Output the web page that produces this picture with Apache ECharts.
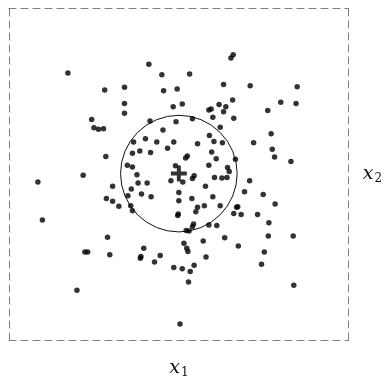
<!DOCTYPE html>
<html>
<head>
<meta charset="utf-8">
<script src="https://cdn.jsdelivr.net/npm/echarts@6/dist/echarts.min.js"></script>
<style>
  html, body { margin: 0; padding: 0; background: #fff; }
  #chart { width: 388px; height: 384px; }
</style>
</head>
<body>
<div id="chart"></div>
<script>
// Sample coordinates (x1, x2)
const x1Values = [
  -1.96, -0.53, -0.30, -1.31, -0.96, -0.27, -0.03, -0.96, -0.96, -0.10,
   0.06, -1.54, -1.50, -1.42, -1.33, -0.51, -0.05, -0.28, -0.80, -0.59,
  -0.39, -0.09, -0.20, -0.82, -0.69, -0.50, -1.29,  0.12,  0.15, -0.91,
  -0.82, -0.06, -0.74, -1.69, -2.49,  0.92,  0.96,  0.19,  0.79,  1.26,
   2.09,  0.71,  0.83,  0.95,  0.53,  0.57,  0.79,  0.60,  0.97,  0.24,
   1.57,  1.80,  2.07,  0.73,  1.63,  0.54,  0.62,  0.77,  0.33,  1.32,
   0.58,  1.65,  1.69,  0.66,  1.00,  1.98,  0.53,  0.86,  0.89,  0.27,
   0.24,  0.63,  0.76,  0.85,  1.25, -0.72, -0.56, -0.14, -1.17, -0.84,
  -0.90, -0.66, -0.49,  0.00, -1.28, -1.17, -1.06, -0.85, -0.82,  0.00,
  -0.02, -0.01, -2.41,  0.13,  0.18, -1.26, -0.62,  0.09, -1.66, -1.61,
  -1.22, -0.67, -0.68, -0.33, -0.43, -0.09,  0.06, -1.80,  0.02,  0.07,
   0.47,  1.16,  0.23,  0.60,  1.49,  1.70,  0.45,  0.33,  0.30,  0.73,
   1.02,  1.04,  0.97,  1.10,  1.39,  1.59,  0.53,  0.67,  0.26,  0.24,
   0.81,  1.58,  2.02,  0.43,  1.05,  0.14,  0.16,  1.51,  0.48,  1.46,
   0.27,  0.20,  0.17,  2.03
];
const x2Values = [
   1.83,  1.99,  1.80,  1.52,  1.57,  1.51,  1.54,  1.28,  1.10,  1.22,
   1.27,  0.99,  0.84,  0.81,  0.82,  0.96,  0.95,  0.80,  0.58,  0.64,
   0.58,  0.58,  0.47,  0.38,  0.42,  0.39,  0.32,  0.29,  0.33,  0.16,
   0.13,  0.15, -0.01, -0.02, -0.14,  2.10,  2.16,  1.81,  1.62,  1.60,
   1.58,  1.26,  1.22,  1.34,  1.16,  1.18,  1.13,  1.03,  1.01,  1.00,
   1.15,  1.30,  1.28,  0.85,  0.73,  0.70,  0.59,  0.57,  0.55,  0.57,
   0.40,  0.45,  0.31,  0.28,  0.27,  0.23,  0.16,  0.12,  0.05, -0.03,
  -0.08, -0.06, -0.07, -0.06, -0.12, -0.16, -0.16, -0.12, -0.22, -0.27,
  -0.39, -0.36, -0.41, -0.33, -0.44, -0.49, -0.58, -0.57, -0.66, -0.48,
  -0.75, -0.72, -0.83, -1.02, -1.03, -1.14, -1.34, -1.25, -1.41, -1.41,
  -1.46, -1.49, -1.52, -1.47, -1.59, -1.69, -1.71, -2.10, -2.71, -0.14,
  -0.22, -0.32, -0.44, -0.41, -0.37, -0.54, -0.57, -0.60, -0.68, -0.57,
  -0.60, -0.59, -0.71, -0.73, -0.73, -0.88, -0.92, -0.93, -0.90, -0.95,
  -1.15, -1.12, -1.12, -1.21, -1.30, -1.34, -1.40, -1.41, -1.50, -1.63,
  -1.65, -1.76, -1.95, -2.01
];

// Centre marker and the circle drawn around it
const meanPoint = [0.0, 0.01];
const circleRadius = 1.03;

// Axis extent and axis names
const axisRange = [-3, 3];
const xAxisName = ['x', '1'];
const yAxisName = ['x', '2'];

const points = x1Values.map((v, i) => [v, x2Values[i]]);

const serif = 'DejaVu Serif';
const frameLine = { show: true, onZero: false, lineStyle: { color: '#808080', width: 1, type: [7, 5] } };
const hidden = { axisTick: { show: false }, axisLabel: { show: false }, splitLine: { show: false } };
const nameRich = {
  v: { fontFamily: serif, fontStyle: 'italic', fontSize: 19, color: '#111' },
  s: { fontFamily: serif, fontStyle: 'normal', fontSize: 12, color: '#111', padding: [9, 0, 0, 1] }
};

const chart = echarts.init(document.getElementById('chart'), null, { renderer: 'canvas' });
chart.setOption({
  animation: false,
  backgroundColor: '#fff',
  textStyle: { fontFamily: serif },
  grid: { left: 9, top: 8.3, width: 339.7, height: 339.4, containLabel: false },
  xAxis: [
    Object.assign({
      type: 'value', position: 'bottom', min: axisRange[0], max: axisRange[1],
      axisLine: frameLine,
      name: '{v|' + xAxisName[0] + '}{s|' + xAxisName[1] + '}',
      nameLocation: 'middle', nameGap: 18,
      nameTextStyle: { fontFamily: serif, fontStyle: 'italic', rich: nameRich }
    }, hidden),
    Object.assign({
      type: 'value', position: 'top', min: axisRange[0], max: axisRange[1],
      axisLine: frameLine
    }, hidden)
  ],
  yAxis: [
    Object.assign({
      type: 'value', position: 'left', min: axisRange[0], max: axisRange[1],
      axisLine: frameLine
    }, hidden),
    Object.assign({
      type: 'value', position: 'right', min: axisRange[0], max: axisRange[1],
      axisLine: frameLine,
      name: '{v|' + yAxisName[0] + '}{s|' + yAxisName[1] + '}',
      nameLocation: 'middle', nameGap: 14, nameRotate: 0,
      nameTextStyle: { fontFamily: serif, fontStyle: 'italic', rich: nameRich, align: 'left' }
    }, hidden)
  ],
  series: [
    {
      type: 'custom',
      silent: true,
      z: 1,
      data: [[meanPoint[0], meanPoint[1], circleRadius]],
      renderItem: function (params, api) {
        const c = api.coord([api.value(0), api.value(1)]);
        const r = api.size([api.value(2), 0])[0];
        return {
          type: 'circle',
          shape: { cx: c[0], cy: c[1], r: r },
          style: { fill: 'none', stroke: '#111', lineWidth: 1 }
        };
      }
    },
    {
      type: 'scatter',
      silent: true,
      z: 2,
      symbol: 'circle',
      symbolSize: 5.5,
      itemStyle: { color: '#000' },
      data: points
    },
    {
      type: 'scatter',
      silent: true,
      z: 3,
      symbol: 'path://M0,6H16V10H0Z M6,0H10V16H6Z',
      symbolSize: 16,
      itemStyle: { color: '#000' },
      data: [meanPoint]
    }
  ]
});
</script>
</body>
</html>
